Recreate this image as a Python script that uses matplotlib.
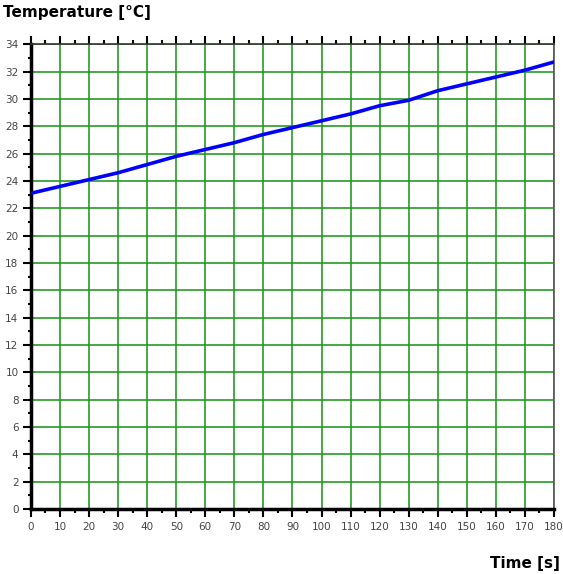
import numpy as np
import matplotlib.pyplot as plt
from matplotlib.ticker import MultipleLocator

time_s = [0, 10, 20, 30, 40, 50, 60, 70, 80, 90, 100, 110, 120, 130, 140, 150, 160, 170, 180]
temp_c = [23.1, 23.6, 24.1, 24.6, 25.2, 25.8, 26.3, 26.8, 27.4, 27.9, 28.4, 28.9, 29.5, 29.9, 30.6, 31.1, 31.6, 32.1, 32.7]

fig = plt.figure(figsize=(5.63, 5.74), dpi=100)
ax = fig.add_axes([0.055, 0.113, 0.929, 0.81])

ax.plot(time_s, temp_c, color='#0000ff', linewidth=2.6, zorder=3)

ax.set_xlim(0, 180)
ax.set_ylim(0, 34)
ax.xaxis.set_major_locator(MultipleLocator(10))
ax.xaxis.set_minor_locator(MultipleLocator(5))
ax.yaxis.set_major_locator(MultipleLocator(2))
ax.yaxis.set_minor_locator(MultipleLocator(1))

ax.grid(which='major', color='#1f9a1f', linewidth=1.3, alpha=0.9)
ax.set_axisbelow(True)

ax.spines['left'].set_linewidth(2.5)
ax.spines['bottom'].set_linewidth(2.5)
ax.spines['top'].set_linewidth(1.2)
ax.spines['right'].set_linewidth(1.2)
ax.spines['right'].set_color('#555555')
ax.spines['top'].set_color('#333333')

ax.tick_params(which='major', direction='out', length=6, width=1.5,
               top=True, labelsize=7.5, labelcolor='#444444', pad=3)
ax.tick_params(which='minor', direction='out', length=3, width=1.5, top=True)
ax.tick_params(axis='y', which='minor', length=2)

fig.text(0.005, 0.992, 'Temperature [°C]', fontsize=11, fontweight='bold',
         ha='left', va='top')
fig.text(0.995, 0.005, 'Time [s]', fontsize=11, fontweight='bold',
         ha='right', va='bottom')

fig.savefig('out.png', dpi=100)
